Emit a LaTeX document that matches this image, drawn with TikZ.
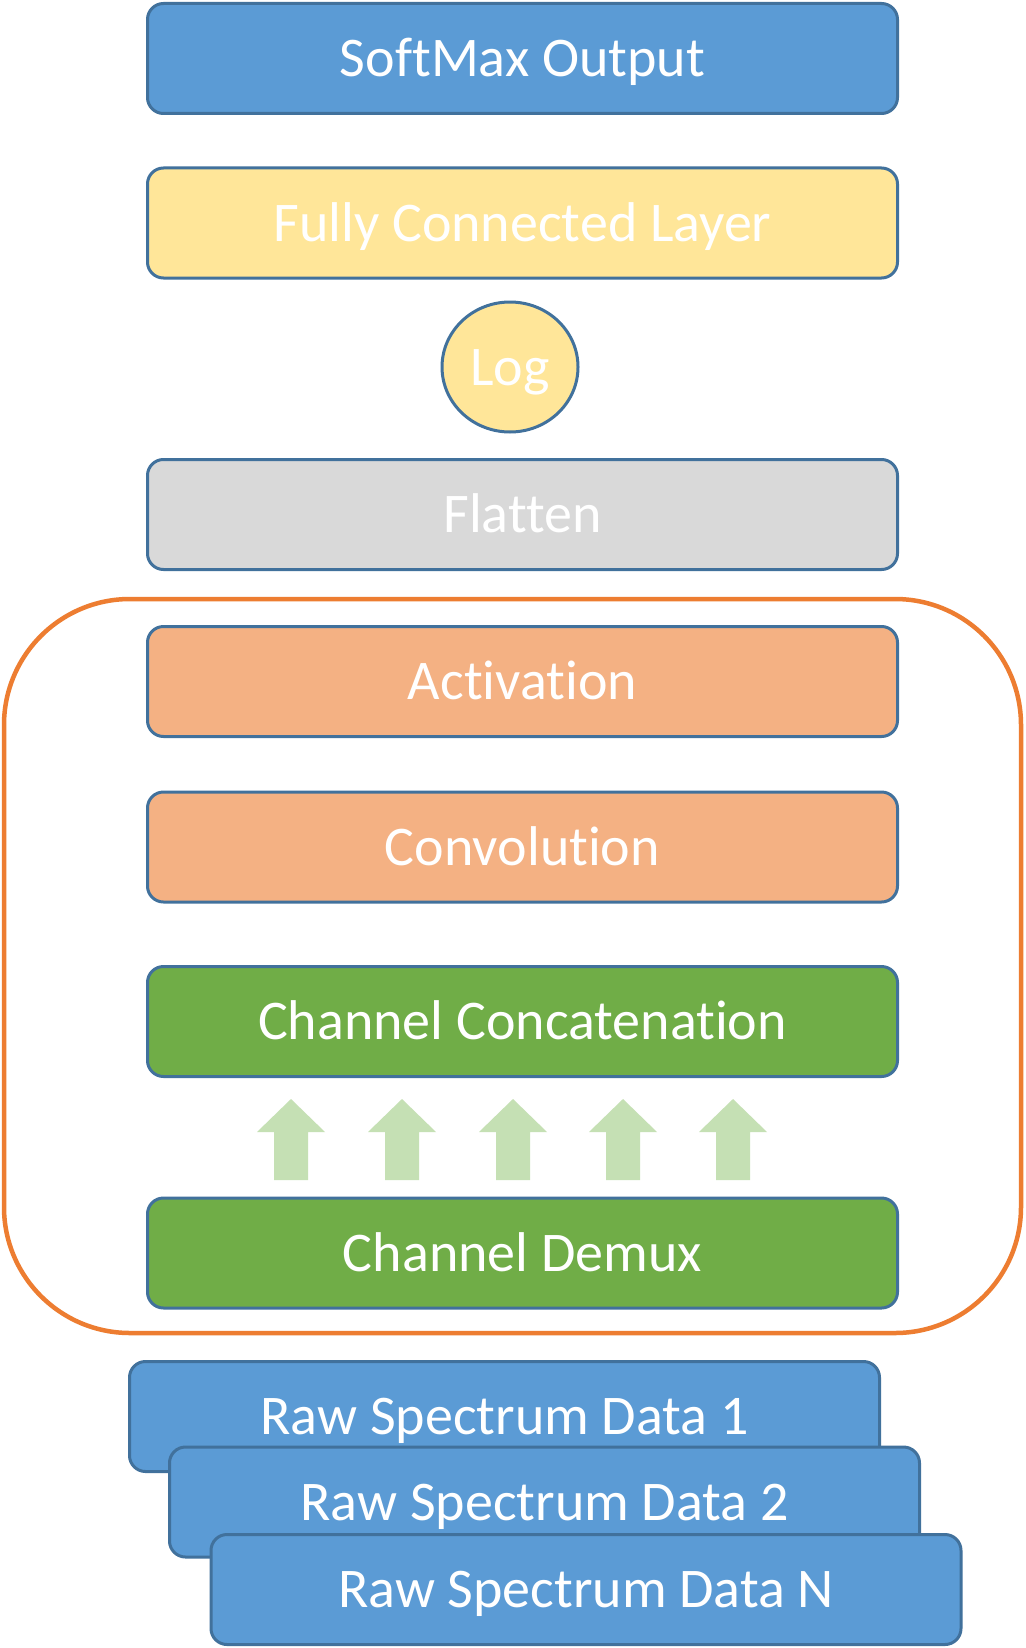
\documentclass[tikz,border=0pt]{standalone}
\usepackage{fontspec}
\setmainfont{Carlito}[Ligatures=NoCommon]
\usetikzlibrary{shapes.geometric}
\definecolor{cblue}{HTML}{5B9BD5}
\definecolor{cyellow}{HTML}{FFE699}
\definecolor{cgray}{HTML}{D9D9D9}
\definecolor{corange}{HTML}{F4B183}
\definecolor{cgreen}{HTML}{70AD47}
\definecolor{carrow}{HTML}{C5E0B4}
\definecolor{cborder}{HTML}{41719C}
\definecolor{cframe}{HTML}{ED7D31}
\tikzset{
  layertext/.style={text=white, font=\fontsize{56}{66}\selectfont,
    text height=36pt, text depth=0pt},
  layerbox/.style={draw=cborder, line width=3pt, rounded corners=16pt,
    minimum width=750pt, minimum height=110pt, inner sep=0pt, layertext},
  upblock/.style={fill=carrow, draw=none}
}
\begin{document}
\begin{tikzpicture}[x=1pt,y=-1pt]
\useasboundingbox (0,0) rectangle (1025,1648);
\fill[white] (0,0) rectangle (1025,1648);
\node[draw=cframe, line width=4.5pt, rounded corners=126pt, minimum width=1017pt, minimum height=734pt] (group) at (512.5,966) {};
\node[layerbox, fill=cblue] (softmax) at (522.5,58.5) {SoftMax Output};
\node[layerbox, fill=cyellow] (fc) at (522.5,223) {Fully Connected Layer};
\node[ellipse, draw=cborder, line width=3pt, fill=cyellow, minimum width=136pt, minimum height=130pt, inner sep=0pt, layertext] (log) at (510,367) {Log};
\node[layerbox, fill=cgray] (flatten) at (522.5,514.5) {Flatten};
\node[layerbox, fill=corange] (act) at (522.5,681.5) {Activation};
\node[layerbox, fill=corange] (conv) at (522.5,847) {Convolution};
\node[layerbox, fill=cgreen] (concat) at (522.5,1021.5) {Channel Concatenation};
\node[layerbox, fill=cgreen] (demux) at (522.5,1253) {Channel Demux};
\foreach \cx in {291,402,513,623,733}{
  \fill[upblock] (\cx,1099) -- (\cx+34,1132) -- (\cx+17,1132) -- (\cx+17,1180)
     -- (\cx-17,1180) -- (\cx-17,1132) -- (\cx-34,1132) -- cycle;
}
\node[layerbox, fill=cblue] (raw1) at (504.5,1416.5) {Raw Spectrum Data 1};
\node[layerbox, fill=cblue] (raw2) at (544.5,1502) {Raw Spectrum Data 2};
\node[layerbox, fill=cblue] (rawn) at (586,1589.5) {Raw Spectrum Data N};
\end{tikzpicture}
\end{document}
